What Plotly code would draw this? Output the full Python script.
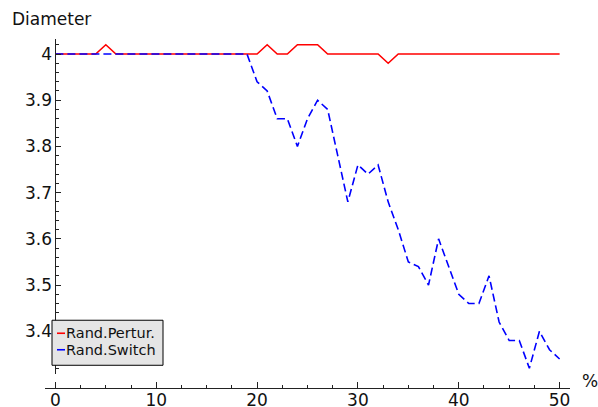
import plotly.graph_objects as go

# ---- data ----
percent = list(range(0, 51))
rand_pertur = [4.0, 4.0, 4.0, 4.0, 4.0, 4.02, 4.0, 4.0, 4.0, 4.0,
               4.0, 4.0, 4.0, 4.0, 4.0, 4.0, 4.0, 4.0, 4.0, 4.0,
               4.0, 4.02, 4.0, 4.0, 4.02, 4.02, 4.02, 4.0, 4.0, 4.0,
               4.0, 4.0, 4.0, 3.98, 4.0, 4.0, 4.0, 4.0, 4.0, 4.0,
               4.0, 4.0, 4.0, 4.0, 4.0, 4.0, 4.0, 4.0, 4.0, 4.0, 4.0]
rand_switch = [4.0, 4.0, 4.0, 4.0, 4.0, 4.0, 4.0, 4.0, 4.0, 4.0,
               4.0, 4.0, 4.0, 4.0, 4.0, 4.0, 4.0, 4.0, 4.0, 4.0,
               3.94, 3.92, 3.86, 3.86, 3.80, 3.86, 3.90, 3.88, 3.78, 3.68,
               3.76, 3.74, 3.76, 3.68, 3.62, 3.55, 3.54, 3.50, 3.60, 3.54,
               3.48, 3.46, 3.46, 3.52, 3.42, 3.38, 3.38, 3.32, 3.40, 3.36, 3.34]
series_names = ["Rand.Pertur.", "Rand.Switch"]
series_colors = ["#ff0000", "#0000ff"]
x_tick_vals = [0, 10, 20, 30, 40, 50]
x_tick_text = ["0", "10", "20", "30", "40", "50"]
y_tick_vals = [3.4, 3.5, 3.6, 3.7, 3.8, 3.9, 4.0]
y_tick_text = ["3.4", "3.5", "3.6", "3.7", "3.8", "3.9", "4"]
y_label = "Diameter"
x_label = "%"

W, H = 598, 407
ML, MR, MT, MB = 45, 28, 39, 19.3
PW = W - ML - MR
PH = H - MT - MB


def px_x(p):
    return (p - ML) / PW


def px_y(p):
    return (H - MB - p) / PH


fig = go.Figure()
fig.add_trace(go.Scatter(x=percent, y=rand_pertur, mode="lines", name=series_names[0],
                         line=dict(color=series_colors[0], width=1.6)))
fig.add_trace(go.Scatter(x=percent, y=rand_switch, mode="lines", name=series_names[1],
                         line=dict(color=series_colors[1], width=1.6, dash="8px,4px")))

axis_color = "#222222"
tick_font = dict(family="DejaVu Sans", size=17, color="#111111")

fig.update_layout(
    width=W, height=H,
    margin=dict(l=ML, r=MR, t=MT, b=MB, autoexpand=False),
    paper_bgcolor="white", plot_bgcolor="white",
    showlegend=False,
    xaxis=dict(
        range=[-1.031, 51.03], anchor="free", position=0,
        showgrid=False, zeroline=False, showline=True, linecolor=axis_color, linewidth=1,
        tickvals=x_tick_vals, ticktext=x_tick_text, ticks="inside", ticklen=6,
        tickcolor=axis_color, tickwidth=1, tickfont=tick_font, automargin=False,
        ticklabelstandoff=-3,
        minor=dict(dtick=2.5, tick0=0, ticks="inside", ticklen=3, tickcolor=axis_color, showgrid=False),
    ),
    yaxis=dict(
        range=[3.3069, 4.0325], domain=[px_y(374), 1], anchor="free", position=px_x(55.4),
        showgrid=False, zeroline=False, showline=True, linecolor=axis_color, linewidth=1,
        tickvals=y_tick_vals, ticktext=y_tick_text, ticks="inside", ticklen=5,
        tickcolor=axis_color, tickwidth=1, tickfont=tick_font, automargin=False,
        minor=dict(dtick=0.02, tick0=3.4, ticks="inside", ticklen=3, tickcolor=axis_color, showgrid=False),
    ),
)

# axis labels
fig.add_annotation(text=y_label, xref="paper", yref="paper", x=px_x(10), y=px_y(19),
                   xanchor="left", yanchor="middle", showarrow=False,
                   font=dict(family="DejaVu Sans", size=17, color="#111111"))
fig.add_annotation(text=x_label, xref="paper", yref="paper", x=px_x(580), y=px_y(381),
                   xanchor="left", yanchor="middle", showarrow=False,
                   font=dict(family="DejaVu Sans", size=17, color="#111111"))

# legend box (Sage style)
fig.add_shape(type="rect", xref="paper", yref="paper",
              x0=px_x(52), x1=px_x(163), y0=px_y(365), y1=px_y(320),
              fillcolor="#e5e5e5", line=dict(color="#000000", width=1), layer="above")
for i, (name, col) in enumerate(zip(series_names, series_colors)):
    yc = 333 + 16.5 * i
    fig.add_shape(type="line", xref="paper", yref="paper",
                  x0=px_x(57), x1=px_x(65), y0=px_y(yc), y1=px_y(yc),
                  line=dict(color=col, width=1.6), layer="above")
    fig.add_annotation(text=name, xref="paper", yref="paper", x=px_x(64), y=px_y(yc),
                       xanchor="left", yanchor="middle", showarrow=False,
                       font=dict(family="DejaVu Sans", size=14.5, color="#111111"))

fig.write_html("out.html", config={"displayModeBar": False},
               post_script="document.body.style.margin='0';document.body.style.padding='0';")
